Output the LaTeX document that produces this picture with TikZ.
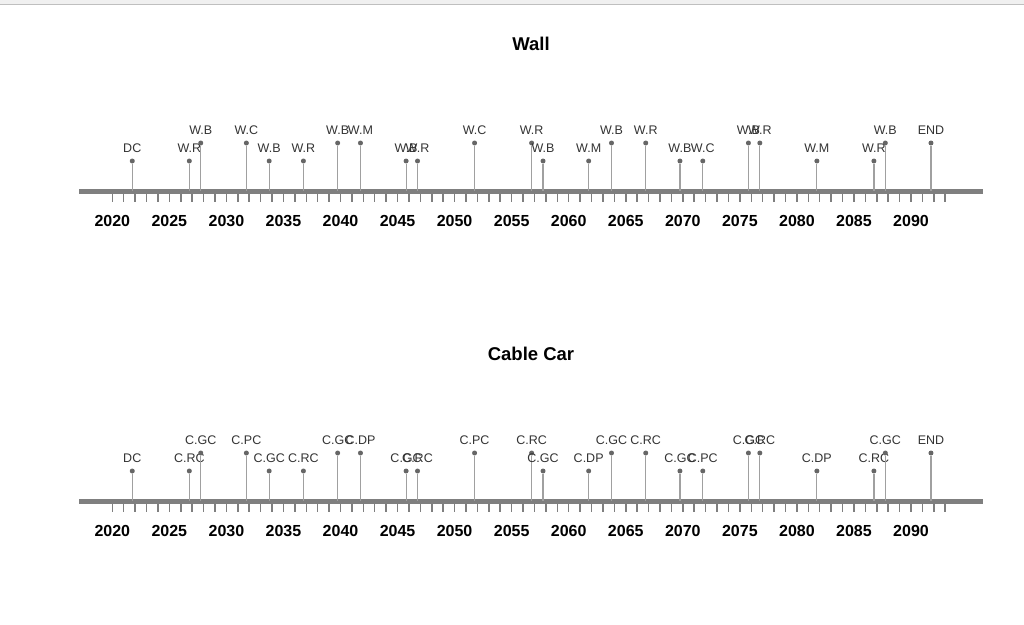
\documentclass[tikz,border=0pt]{standalone}
\usepackage{fontspec}
\setmainfont{Liberation Sans}
\definecolor{axisgray}{HTML}{7F7F7F}
\definecolor{stemgray}{HTML}{A0A0A0}
\definecolor{dotgray}{HTML}{666666}
\definecolor{labgray}{HTML}{333333}
\tikzstyle{event}=[circle, fill=dotgray, inner sep=0pt, minimum size=5pt]
\tikzstyle{evlabel}=[anchor=base, inner sep=0pt, text=labgray, font=\fontsize{12.5}{14}\selectfont]
\tikzstyle{yearlabel}=[anchor=base, inner sep=0pt, font=\bfseries\fontsize{16}{18}\selectfont]
\tikzstyle{charttitle}=[anchor=base, inner sep=0pt, font=\bfseries\fontsize{18.5}{20}\selectfont]
\tikzstyle{stem}=[draw=stemgray, line width=1.2pt]
\newcommand{\yrx}[1]{112.3+11.41*(#1-2020)}
% axis with yearly ticks and labels every 5 years
\newcommand{\timeaxis}[1]{
	\draw[axisgray, line width=5pt] (79,191) -- (983,191);
	\foreach \y in {2020,...,2093}
		\draw[axisgray, line width=1.5pt] ({\yrx{\y}},193.5) -- ({\yrx{\y}},202);
	\foreach \y in {2020,2025,...,2090}
		\node[yearlabel] (#1yr\y) at ({\yrx{\y}},226.7) {\y};
}
% events: year/level/label
\newcommand{\events}[2]{
	\foreach \t/\lvl/\lab [count=\i] in {#2}{
		\pgfmathsetmacro{\dy}{161-18*\lvl}
		\pgfmathsetmacro{\ly}{152.3-18.3*\lvl}
		\coordinate (#1a\i) at ({\yrx{\t}},191);
		\node[event] (#1\i) at ({\yrx{\t}},\dy){};
		\draw[stem] (#1a\i) -- (#1\i);
		\node[evlabel] (#1l\i) at ({\yrx{\t}},\ly){\lab};
	}
}

\begin{document}
\begin{tikzpicture}[x=1pt, y=-1pt]
\useasboundingbox (0,0) rectangle (1024,624);
\fill[black!6] (0,0) rectangle (1024,4);
\draw[black!25] (0,4) -- (1024,4);

\node[charttitle] (wall) at (531,50.7){Wall};
\timeaxis{w}
\events{w}{2021.75/0/DC, 2026.75/0/W.R, 2027.75/1/W.B, 2031.75/1/W.C, 2033.75/0/W.B,
	2036.75/0/W.R, 2039.75/1/W.B, 2041.75/1/W.M, 2045.75/0/W.B, 2046.75/0/W.R,
	2051.75/1/W.C, 2056.75/1/W.R, 2057.75/0/W.B, 2061.75/0/W.M, 2063.75/1/W.B,
	2066.75/1/W.R, 2069.75/0/W.B, 2071.75/0/W.C, 2075.75/1/W.B, 2076.75/1/W.R,
	2081.75/0/W.M, 2086.75/0/W.R, 2087.75/1/W.B, 2091.75/1/END}

\begin{scope}[yshift=-310pt]
\node[charttitle] (cable) at (531,50.7){Cable Car};
\timeaxis{c}
\events{c}{2021.75/0/DC, 2026.75/0/C.RC, 2027.75/1/C.GC, 2031.75/1/C.PC, 2033.75/0/C.GC,
	2036.75/0/C.RC, 2039.75/1/C.GC, 2041.75/1/C.DP, 2045.75/0/C.GC, 2046.75/0/C.RC,
	2051.75/1/C.PC, 2056.75/1/C.RC, 2057.75/0/C.GC, 2061.75/0/C.DP, 2063.75/1/C.GC,
	2066.75/1/C.RC, 2069.75/0/C.GC, 2071.75/0/C.PC, 2075.75/1/C.GC, 2076.75/1/C.RC,
	2081.75/0/C.DP, 2086.75/0/C.RC, 2087.75/1/C.GC, 2091.75/1/END}
\end{scope}
\end{tikzpicture}
\end{document}
